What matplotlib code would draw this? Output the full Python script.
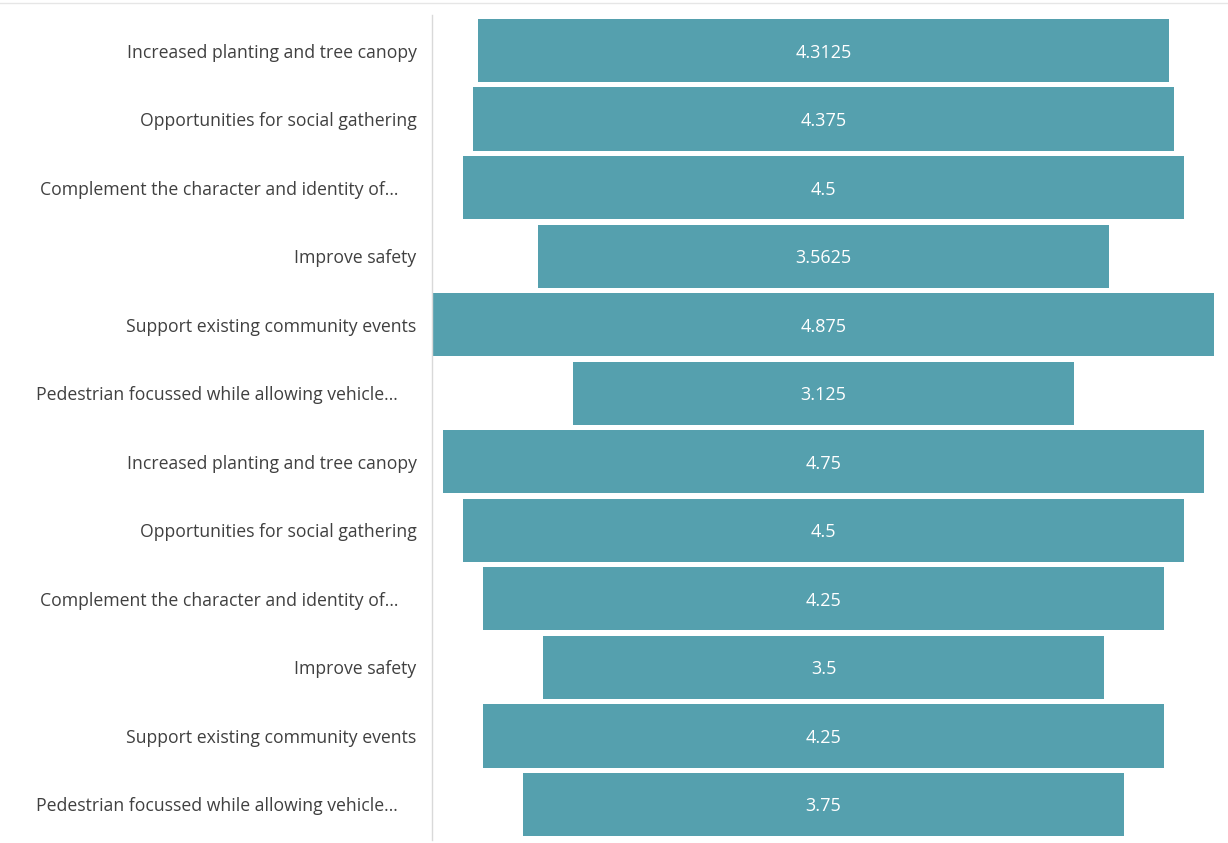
import matplotlib
matplotlib.use("Agg")
import matplotlib.pyplot as plt

categories = [
    "Increased planting and tree canopy",
    "Opportunities for social gathering",
    "Complement the character and identity of…",
    "Improve safety",
    "Support existing community events",
    "Pedestrian focussed while allowing vehicle…",
    "Increased planting and tree canopy",
    "Opportunities for social gathering",
    "Complement the character and identity of…",
    "Improve safety",
    "Support existing community events",
    "Pedestrian focussed while allowing vehicle…",
]
values = [4.3125, 4.375, 4.5, 3.5625, 4.875, 3.125, 4.75, 4.5, 4.25, 3.5, 4.25, 3.75]
value_labels = ["4.3125", "4.375", "4.5", "3.5625", "4.875", "3.125", "4.75", "4.5", "4.25", "3.5", "4.25", "3.75"]

plt.rcParams['font.family'] = ['Open Sans', 'DejaVu Sans']
fig = plt.figure(figsize=(12.28, 8.43), dpi=100)
ax = fig.add_axes([432/1228, 3/843, 783/1228, 825/843])

bar_color = "#55A0AE"
ys = list(range(len(values)))
lefts = [-v / 2 for v in values]
ax.barh(ys, values, left=lefts, height=0.925, color=bar_color)
for y, v, lab in zip(ys, values, value_labels):
    ax.text(0, y, lab, ha="center", va="center_baseline", color="white", fontsize=13)

ax.set_xlim(-2.445, 2.445)
ax.set_ylim(11 + 0.52, -0.52)
ax.set_yticks(ys)
labels = [c + ("    " if c.endswith("…") else "") for c in categories]
ax.set_yticklabels(labels, fontsize=12.7, color="#404040")
ax.tick_params(axis="y", length=0, pad=11)
ax.set_xticks([])
for s in ["top", "right", "bottom"]:
    ax.spines[s].set_visible(False)
ax.spines["left"].set_color("#d9d9d9")
ax.spines["left"].set_linewidth(1)

fig.add_artist(plt.Line2D([0, 1], [1 - 3/843, 1 - 3/843], color="#e6e6e6", lw=1))
fig.savefig("out.png", dpi=100, facecolor="white")
